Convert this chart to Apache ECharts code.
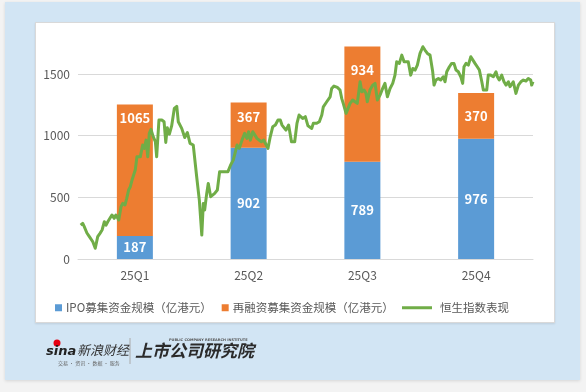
<!DOCTYPE html>
<html>
<head>
<meta charset="utf-8">
<script src="https://cdn.jsdelivr.net/npm/echarts@6/dist/echarts.min.js"></script>
<style>
html,body{margin:0;padding:0;background:#f3f3f3;width:586px;height:392px;overflow:hidden;}
#frame{position:absolute;left:5px;top:2px;width:575px;height:378px;background:#D2E5F4;box-shadow:0 1px 3px rgba(0,0,0,0.12);}
#panel{position:absolute;left:35px;top:22px;width:518px;height:299px;background:#fff;border:1px solid #d9d9d9;box-shadow:0 1px 2px rgba(0,0,0,0.10);}
#chart{position:absolute;left:0;top:0;width:586px;height:392px;}
</style>
</head>
<body>
<div id="frame"></div>
<div id="panel"></div>
<div id="chart"></div>
<script>
// ---- data ----
var quarters = ['25Q1', '25Q2', '25Q3', '25Q4'];
var ipoValues = [187, 902, 789, 976];
var refinValues = [1065, 367, 934, 370];
var seriesNames = ['IPO募集资金规模（亿港元）', '再融资募集资金规模（亿港元）', '恒生指数表现'];
var yTicks = [0, 500, 1000, 1500];
// Hang Seng index performance, trading-day position and value
var hsiDay = [1.4,2.5,3.3,3.9,4.7,6.0,7.8,9.1,10.4,11.6,12.7,13.9,14.8,15.7,16.5,17.9,19.1,20.0,21.5,22.7,23.6,24.8,25.7,26.7,27.6,28.5,29.2,30.2,31.1,32.0,32.9,34.1,35.0,35.9,36.8,37.6,38.5,39.7,40.8,41.5,42.7,44.2,45.4,46.3,47.1,48.2,49.4,50.8,52.1,52.9,54.7,56.3,57.7,59.1,60.8,62.6,64.0,65.3,66.1,66.8,67.9,68.7,70.0,72.1,73.5,74.7,76.1,77.9,79.1,80.5,81.9,82.7,83.9,85.1,86.5,87.9,89.1,90.0,90.9,92.2,93.2,94.4,95.3,96.7,98.0,98.8,100.2,101.4,102.7,104.1,105.5,106.7,107.6,108.5,109.7,111.1,112.6,114.3,115.5,116.6,117.3,118.5,119.9,121.3,123.3,124.1,125.9,127.3,128.6,129.4,131.2,133.0,133.8,135.0,136.8,138.2,139.1,139.9,141.4,142.3,143.5,144.9,146.1,147.3,148.8,149.7,150.9,151.9,152.6,154.0,155.5,156.7,157.9,159.3,160.7,161.9,163.2,164.6,166.0,167.2,168.1,169.5,170.8,172.0,173.0,174.2,175.5,176.6,177.8,179.0,180.4,181.9,183.0,184.3,185.7,187.1,187.8,188.8,190.1,191.3,192.7,193.6,194.5,195.9,197.1,198.3,199.4,200.6,201.9,202.9,203.6,204.7,205.9,207.2,208.2,209.4,210.6,211.7,213.0,213.8,215.6,216.4,217.7,219.1,220.5,221.2,222.2,223.5,224.7,225.8,227.0,227.9,229.6,231.0,232.3,233.6,234.9,236.3,237.5,238.8,239.3,240.0];
var hsiValue = [275,289,262,275,211,181,140,87,181,208,235,302,275,302,289,357,330,357,316,424,451,438,492,559,586,640,654,721,829,843,829,924,897,964,829,1019,1051,990,951,829,1127,1127,1113,945,1065,1012,1079,1221,1237,1113,1059,985,1025,938,924,667,478,194,451,397,532,613,505,532,559,708,708,708,708,762,802,816,924,897,964,1019,978,1032,964,1032,1045,978,991,951,964,938,897,991,1072,1086,1127,1127,1086,1100,1045,1086,951,951,1100,1167,1181,1140,1154,1080,1059,1100,1100,1113,1167,1234,1275,1315,1383,1402,1391,1370,1302,1262,1181,1167,1262,1289,1275,1262,1437,1356,1370,1343,1275,1370,1410,1424,1289,1329,1383,1424,1315,1383,1424,1491,1599,1586,1653,1599,1613,1599,1491,1545,1532,1572,1667,1721,1694,1667,1653,1518,1410,1451,1464,1451,1478,1437,1518,1559,1586,1586,1532,1518,1478,1424,1559,1586,1572,1640,1626,1586,1559,1532,1437,1370,1370,1491,1491,1478,1518,1478,1451,1491,1437,1410,1437,1397,1437,1343,1410,1437,1451,1443,1464,1451,1410,1437];

// ---- styles ----
var BLUE = '#5B9BD5', ORANGE = '#ED7D31', GREEN = '#70AD47', TXT = '#595959', GRID = '#d9d9d9';
var FONT = '"Microsoft YaHei","Noto Sans CJK SC","Noto Sans",sans-serif';
var orangeLabelDist = [6, 8, 17, 16];

var hsiData = hsiDay.map(function (d, i) { return [d, hsiValue[i]]; });
var refinData = refinValues.map(function (v, i) {
  return { value: v, label: { position: 'insideTop', distance: orangeLabelDist[i] } };
});

var chart = echarts.init(document.getElementById('chart'), null, { renderer: 'canvas' });
var labelStyle = { show: true, color: '#fff', fontWeight: 'bold', fontSize: 13, lineHeight: 14, fontFamily: FONT };

chart.setOption({
  backgroundColor: 'transparent',
  animation: false,
  textStyle: { fontFamily: FONT },
  grid: { left: 78, right: 53, top: 37, bottom: 133, containLabel: false },
  legend: [
    {
      data: [seriesNames[0], seriesNames[1]],
      left: 50, top: 297, itemWidth: 7, itemHeight: 7, itemGap: 10, icon: 'rect',
      textStyle: { color: TXT, fontSize: 11.5, fontFamily: FONT, padding: [0, 0, 0, -1] }
    },
    {
      data: [seriesNames[2]],
      left: 397, top: 297, itemWidth: 30, itemHeight: 3, icon: 'rect', itemGap: 8,
      textStyle: { color: TXT, fontSize: 11.5, fontFamily: FONT, padding: [0, 0, 0, 3] }
    }
  ],
  xAxis: [
    {
      type: 'category', data: quarters,
      axisLine: { lineStyle: { color: GRID, width: 1 } },
      axisTick: { show: false },
      axisLabel: { color: TXT, fontSize: 12, margin: 10, fontFamily: FONT }
    },
    { type: 'value', min: 0, max: 240, show: false }
  ],
  yAxis: {
    type: 'value', min: 0, max: 1800, interval: 500,
    axisLine: { show: false }, axisTick: { show: false },
    axisLabel: { color: TXT, fontSize: 12, margin: 8, showMaxLabel: false, fontFamily: FONT,
      formatter: function (v) { return yTicks.indexOf(v) >= 0 ? String(v) : ''; } },
    splitLine: { show: true, showMaxLine: false, lineStyle: { color: GRID, width: 1 } }
  },
  series: [
    {
      name: seriesNames[0], type: 'bar', stack: 'total', data: ipoValues, barWidth: 36,
      itemStyle: { color: BLUE },
      label: Object.assign({ position: 'inside' }, labelStyle), z: 2
    },
    {
      name: seriesNames[1], type: 'bar', stack: 'total', data: refinData, barWidth: 36,
      itemStyle: { color: ORANGE },
      label: Object.assign({ position: 'insideTop' }, labelStyle), z: 2
    },
    {
      name: seriesNames[2], type: 'line', xAxisIndex: 1, yAxisIndex: 0, data: hsiData,
      showSymbol: false, symbol: 'none', smooth: false,
      lineStyle: { color: GREEN, width: 3, join: 'round' }, itemStyle: { color: GREEN }, z: 5
    }
  ],
  graphic: [
    { type: 'circle', shape: { cx: 57, cy: 343, r: 3.5 }, style: { fill: '#e60012' } },
    { type: 'text', left: 46, top: 345, style: { text: 'sina', fill: '#222', font: 'italic bold 13px "DejaVu Sans",sans-serif' } },
    { type: 'text', left: 77, top: 344, style: { text: '新浪财经', fill: '#333', font: 'italic 13px "Noto Sans CJK SC",sans-serif' } },
    { type: 'text', left: 58, top: 361, style: { text: '交易 · 资讯 · 数据 · 服务', fill: '#666', font: '5px "Noto Sans CJK SC",sans-serif' } },
    { type: 'line', shape: { x1: 130, y1: 338, x2: 130, y2: 364 }, style: { stroke: '#aaa', lineWidth: 1 } },
    { type: 'text', left: 169, top: 338, style: { text: 'PUBLIC COMPANY RESEARCH INSTITUTE', fill: '#555', font: 'bold 3.5px "DejaVu Sans",sans-serif' } },
    { type: 'text', left: 135, top: 342, style: { text: '上市公司研究院', fill: '#2b2b2b', font: 'italic bold 17px "Noto Sans CJK SC",sans-serif' } }
  ]
});
</script>
</body>
</html>
